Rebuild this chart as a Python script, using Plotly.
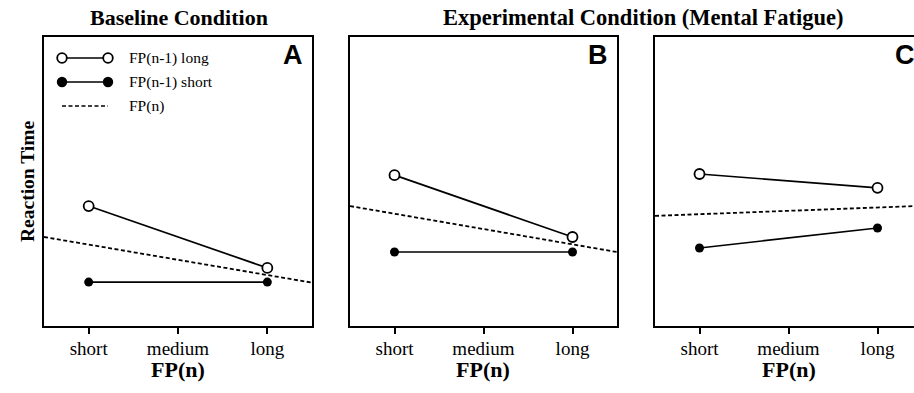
import plotly.graph_objects as go

# ---------------- data ----------------
fp_categories = ["short", "medium", "long"]
fp_positions = [0, 1, 2]
data_x = [0, 2]                 # FP(n) short, long
fpn_x = [-0.5, 2.5]             # FP(n) main-effect line spans the panel

panel_titles = ["Baseline Condition", "Experimental Condition (Mental Fatigue)"]
panel_letters = ["A", "B", "C"]

# Reaction time (arbitrary units)
a_prev_long = [41.5, 20.1]
a_prev_short = [15.2, 15.2]
a_fpn = [30.8, 15.0]

b_prev_long = [52.2, 30.8]
b_prev_short = [25.6, 25.6]
b_fpn = [41.5, 25.6]

c_prev_long = [52.6, 47.8]
c_prev_short = [27.0, 33.9]
c_fpn = [38.1, 41.6]

legend_labels = ["FP(n-1) long", "FP(n-1) short", "FP(n)"]

W, H = 914, 393
def px(x): return x / W
def py(y): return 1 - y / H

SERIF = "Liberation Serif"
SANS = "Liberation Sans"

fig = go.Figure()

panels = [
    ("x", "y", a_prev_long, a_prev_short, a_fpn),
    ("x2", "y2", b_prev_long, b_prev_short, b_fpn),
    ("x3", "y3", c_prev_long, c_prev_short, c_fpn),
]
for xa, ya, lng, sht, fpn in panels:
    fig.add_trace(go.Scatter(x=fpn_x, y=fpn, mode="lines", xaxis=xa, yaxis=ya,
                             line=dict(color="black", width=1.8, dash="4px,2.5px"),
                             showlegend=False, hoverinfo="skip"))
    fig.add_trace(go.Scatter(x=data_x, y=lng, mode="lines+markers", xaxis=xa, yaxis=ya,
                             line=dict(color="black", width=1.7),
                             marker=dict(symbol="circle", size=10, color="white",
                                         line=dict(color="black", width=1.8)),
                             showlegend=False))
    fig.add_trace(go.Scatter(x=data_x, y=sht, mode="lines+markers", xaxis=xa, yaxis=ya,
                             line=dict(color="black", width=1.7),
                             marker=dict(symbol="circle", size=9, color="black"),
                             showlegend=False))

ydom = [py(326), py(37)]
xdoms = [[px(44), px(312)], [px(350), px(617)], [px(655), 1.0]]
xranges = [[-0.5, 2.5], [-0.5, 2.5], [-0.5, 2.41]]

common_x = dict(tickmode="array", tickvals=fp_positions, ticktext=fp_categories,
                ticks="outside", ticklen=6, tickwidth=1.6, tickcolor="black",
                ticklabelstandoff=-2,
                showline=True, linecolor="black", linewidth=1.9, mirror=True,
                showgrid=False, zeroline=False,
                tickfont=dict(family=SERIF, size=19, color="black"), fixedrange=True)
common_y = dict(range=[0, 100], showticklabels=False, ticks="", showgrid=False,
                zeroline=False, showline=True, linecolor="black", linewidth=1.9,
                domain=ydom, fixedrange=True)

layout_axes = {}
names = ["", "2", "3"]
for i, n in enumerate(names):
    xa = dict(common_x, domain=xdoms[i], range=xranges[i], anchor="y" + n)
    ya = dict(common_y, anchor="x" + n, mirror=(i < 2))
    layout_axes["xaxis" + n] = xa
    layout_axes["yaxis" + n] = ya

fig.update_layout(**layout_axes)

ann = []
# panel titles
ann.append(dict(text="<b>" + panel_titles[0] + "</b>", x=px(179), y=py(18), xref="paper", yref="paper",
                showarrow=False, font=dict(family=SERIF, size=22, color="black"),
                xanchor="center", yanchor="middle"))
ann.append(dict(text="<b>" + panel_titles[1] + "</b>", x=px(643), y=py(18), xref="paper", yref="paper",
                showarrow=False, font=dict(family=SERIF, size=22.5, color="black"),
                xanchor="center", yanchor="middle"))
# x axis titles
for cx in [178, 483, 789]:
    ann.append(dict(text="<b>FP(n)</b>", x=px(cx), y=py(369), xref="paper", yref="paper",
                    showarrow=False, font=dict(family=SERIF, size=22, color="black"),
                    xanchor="center", yanchor="middle"))
# y title
ann.append(dict(text="<b>Reaction Time</b>", x=px(27), y=py(182), xref="paper", yref="paper",
                showarrow=False, textangle=-90, font=dict(family=SERIF, size=19.5, color="black"),
                xanchor="center", yanchor="middle"))
# panel letters
for letter, rx in zip(panel_letters, [305, 610, 917]):
    ann.append(dict(text="<b>" + letter + "</b>", x=px(rx), y=py(55), xref="paper", yref="paper",
                    showarrow=False, font=dict(family=SANS, size=27, color="black"),
                    xanchor="right", yanchor="middle"))

# legend (drawn in panel A)
shapes = []
rows = [58, 82, 106]
lx0, lx1 = 62, 108
for i, (lab, ry) in enumerate(zip(legend_labels, rows)):
    ann.append(dict(text=lab, x=px(127), y=py(ry), xref="paper", yref="paper", showarrow=False,
                    font=dict(family=SERIF, size=15.5, color="black"),
                    xanchor="left", yanchor="middle"))
    if i < 2:
        shapes.append(dict(type="line", xref="paper", yref="paper",
                           x0=px(lx0), x1=px(lx1), y0=py(ry), y1=py(ry),
                           line=dict(color="black", width=1.7)))
        r = 4.8 if i == 0 else 4.3
        fill = "white" if i == 0 else "black"
        for cx in (lx0, lx1):
            shapes.append(dict(type="circle", xref="paper", yref="paper",
                               x0=px(cx - r), x1=px(cx + r), y0=py(ry + r), y1=py(ry - r),
                               fillcolor=fill, line=dict(color="black", width=1.8)))
    else:
        shapes.append(dict(type="line", xref="paper", yref="paper",
                           x0=px(lx0), x1=px(lx1), y0=py(ry), y1=py(ry),
                           line=dict(color="black", width=1.5, dash="4px,2.5px")))

fig.update_layout(annotations=ann, shapes=shapes, width=W, height=H,
                  margin=dict(l=0, r=0, t=0, b=0),
                  plot_bgcolor="white", paper_bgcolor="white", showlegend=False)

fig.write_html("out.html", config={"displayModeBar": False})
